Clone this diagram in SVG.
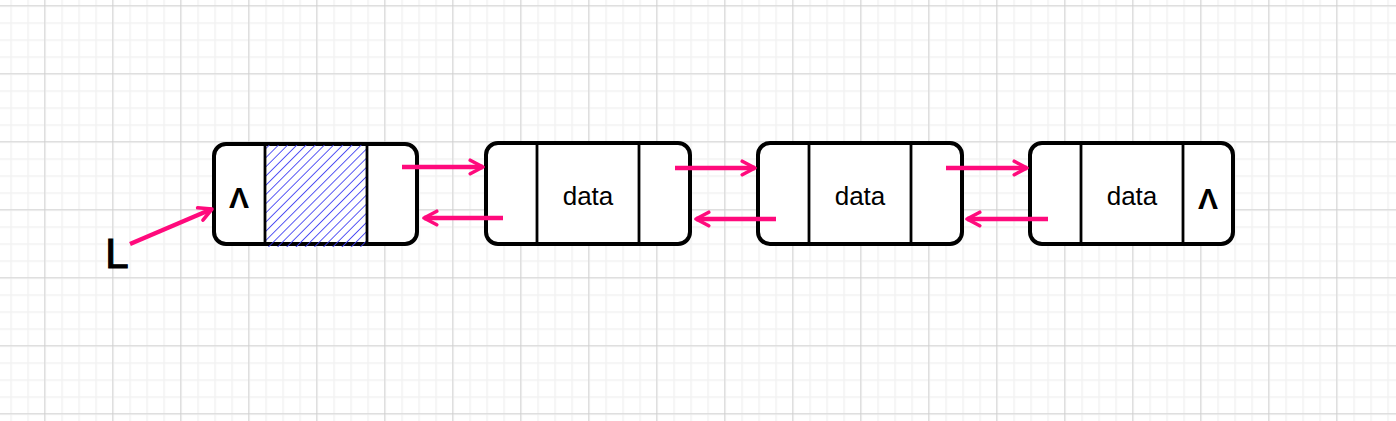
<svg xmlns="http://www.w3.org/2000/svg" width="1396" height="421" viewBox="0 0 1396 421">
<defs>
<pattern id="minor" x="10.3" y="5.3" width="17" height="17" patternUnits="userSpaceOnUse">
<path d="M0.5 0V17M0 0.5H17" stroke="#f2f2f2" stroke-width="2" fill="none"/>
</pattern>
<pattern id="major" x="44.3" y="5.3" width="68" height="68" patternUnits="userSpaceOnUse">
<path d="M0 0V68M0 0H68" stroke="#cccccc" stroke-width="1.5" fill="none"/>
</pattern>
<pattern id="hatch" width="6.5" height="6.5" patternUnits="userSpaceOnUse" patternTransform="rotate(45)">
<line x1="0" y1="0" x2="0" y2="6.5" stroke="#3c3cf2" stroke-width="1.7"/>
</pattern>
<marker id="arr" viewBox="0 0 12 12" refX="10" refY="6" markerWidth="4" markerHeight="4" orient="auto" markerUnits="strokeWidth">
<path d="M1.5 1.5L10 6L1.5 10.5" fill="none" stroke="#ff0a7c" stroke-width="2.4" stroke-linecap="round" stroke-linejoin="round"/>
</marker>
</defs>
<style>
.box{fill:#fff;stroke:#000;stroke-width:4}
.div{stroke:#000;stroke-width:2.8}
.lbl{font-family:"Comic Sans MS","Liberation Sans",sans-serif;font-size:26px;fill:#000;text-anchor:middle}
.nul{font-family:"Liberation Sans",sans-serif;font-size:30px;font-weight:bold;fill:#000;text-anchor:middle}
.c{stroke:#ff0a7c;stroke-width:4.5;fill:none;marker-end:url(#arr)}
</style>
<rect width="1396" height="421" fill="#fff"/>
<rect width="1396" height="421" fill="url(#minor)"/>
<rect width="1396" height="421" fill="url(#major)"/>

<g id="node1">
<rect class="box" x="214" y="144" width="203" height="100" rx="12"/>
<rect x="266" y="145" width="101" height="102" fill="url(#hatch)"/>
<line class="div" x1="265" y1="144" x2="265" y2="244"/>
<line class="div" x1="367" y1="144" x2="367" y2="244"/>
<text class="nul" x="239" y="208">Λ</text>
</g>
<g id="node2">
<rect class="box" x="486" y="143" width="204" height="101" rx="12"/>
<line class="div" x1="537" y1="143" x2="537" y2="244"/>
<line class="div" x1="639" y1="143" x2="639" y2="244"/>
<text class="lbl" x="588" y="205">data</text>
</g>
<g id="node3">
<rect class="box" x="758" y="143" width="204" height="101" rx="12"/>
<line class="div" x1="809" y1="143" x2="809" y2="244"/>
<line class="div" x1="911" y1="143" x2="911" y2="244"/>
<text class="lbl" x="860" y="205">data</text>
</g>
<g id="node4">
<rect class="box" x="1030" y="143" width="203" height="101" rx="12"/>
<line class="div" x1="1081" y1="143" x2="1081" y2="244"/>
<line class="div" x1="1183" y1="143" x2="1183" y2="244"/>
<text class="lbl" x="1132" y="205">data</text>
<text class="nul" x="1208" y="209">Λ</text>
</g>
<g id="labelL">
<text x="117" y="268" font-family="Liberation Sans, sans-serif" font-size="42" text-anchor="middle" fill="#000" stroke="#000" stroke-width="1.2">L</text>
</g>
<g id="connectors">
<line class="c" x1="130" y1="244" x2="212" y2="209"/>
<line class="c" x1="402" y1="167" x2="483" y2="167"/>
<line class="c" x1="503" y1="218" x2="424" y2="218"/>
<line class="c" x1="675" y1="168" x2="755" y2="168"/>
<line class="c" x1="776" y1="219" x2="696" y2="219"/>
<line class="c" x1="946" y1="168" x2="1027" y2="168"/>
<line class="c" x1="1048" y1="219" x2="967" y2="219"/>
</g>
</svg>
